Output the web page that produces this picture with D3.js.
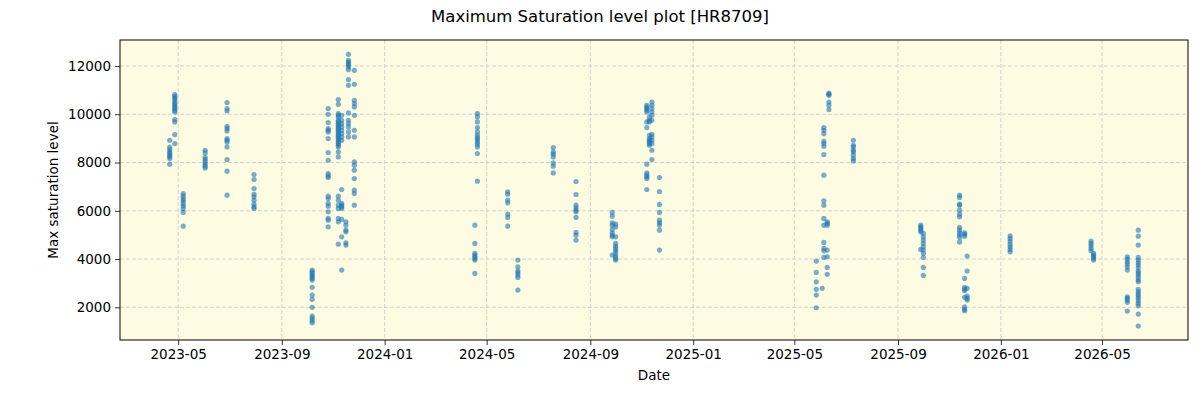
<html>
<head>
<script src="https://d3js.org/d3.v7.min.js"></script>
<title>Maximum Saturation level plot [HR8709]</title>
<style>
  body { margin: 0; padding: 0; background: #fff; }
  text { font-family: "DejaVu Sans", sans-serif; }
</style>
</head>
<body>
<script>

// one entry per observing night: date and the max saturation levels measured that night
var nightDates = [
  "2023-04-21", "2023-04-27", "2023-05-07", "2023-06-02", "2023-06-28", "2023-07-30",
  "2023-10-07", "2023-10-26", "2023-11-07", "2023-11-11", "2023-11-16", "2023-11-19", "2023-11-26",
  "2024-04-17", "2024-04-20", "2024-05-26", "2024-06-07", "2024-07-19", "2024-08-15",
  "2024-09-27", "2024-10-01", "2024-11-07", "2024-11-10", "2024-11-13", "2024-11-22",
  "2025-05-27", "2025-06-03", "2025-06-05", "2025-06-09", "2025-06-11", "2025-07-10",
  "2025-09-28", "2025-10-01", "2025-11-13", "2025-11-19", "2025-11-22", "2026-01-12",
  "2026-04-18", "2026-04-21", "2026-05-31", "2026-06-13"
];

var nightLevels = [
  [8923, 8637, 8538, 8439, 8373, 8303, 8232, 8166, 7930],
  [10814, 10744, 10674, 10607, 10508, 10442, 10372, 10302, 10236, 10165, 10095, 9780, 9680, 9159, 8786],
  [6717, 6606, 6494, 6411, 6304, 6204, 6097, 5931, 5364],
  [8509, 8397, 8207, 8124, 8025, 7930, 7847, 7777],
  [10483, 10235, 10135, 9502, 9407, 9308, 8993, 8923, 8853, 8646, 8124, 7640, 6647],
  [7504, 7297, 6924, 6688, 6577, 6440, 6275, 6163, 6097],
  [3543, 3473, 3407, 3337, 3266, 3200, 3130, 2828, 2509, 2331, 2000, 1640, 1545, 1446, 1363],
  [10235, 9999, 9655, 9407, 9337, 9267, 8993, 8414, 8095, 7545, 7445, 7379, 6606, 6510, 6304, 6192, 5956, 5683, 5613, 5335],
  [10607, 10413, 10028, 9957, 9887, 9750, 9680, 9614, 9544, 9474, 9407, 9337, 9267, 9200, 9130, 9060, 8993, 8923, 8853, 8786, 8716, 8646, 8439, 8232,
   6606, 6440, 6233, 6097, 5683, 5542, 4619],
  [9957, 9750, 9614, 9474, 9337, 9200, 9060, 8923, 6883, 6304, 6233, 6163, 6097, 5641, 4921, 3543],
  [5542, 5406, 5199, 5128, 4673, 4578],
  [12482, 12234, 12163, 12097, 12027, 11956, 11848, 11434, 11199, 10053, 9750, 9614, 9474, 9267, 9060],
  [11820, 11240, 10578, 10442, 10302, 9957, 9337, 9060, 8025, 7889, 7682, 7338, 6854, 6717, 6233],
  [5406, 4648, 4235, 4164, 4094, 4028, 3957, 3407],
  [10028, 9887, 9680, 9449, 9267, 9130, 9035, 8952, 8853, 8758, 8646, 8373, 7226],
  [6784, 6688, 6440, 6328, 5861, 5724, 5364],
  [3957, 3680, 3514, 3432, 3337, 3241, 2716],
  [8621, 8439, 8344, 8232, 7984, 7847, 7570],
  [7214, 6676, 6233, 6122, 6026, 5956, 5724, 5103, 4992, 4785],
  [5931, 5778, 5501, 5406, 5228, 5087, 4992, 4921, 4164],
  [5447, 5335, 4921, 4648, 4537, 4441, 4342, 4235, 4123, 4028, 3957],
  [10372, 10302, 10236, 10165, 10095, 9680, 9449, 7930, 7570, 7475, 7404, 7338, 6883],
  [9887, 9750, 9680, 9130, 8993, 8923, 8853, 8786, 8716],
  [10508, 10372, 10235, 10095, 9957, 9750, 9171, 9060, 8923, 8786, 8509, 8124],
  [7379, 6800, 6262, 5931, 5613, 5501, 5406, 5199, 4371],
  [3916, 3448, 3059, 2745, 2509, 1983],
  [2786],
  [9449, 9337, 9200, 8882, 8786, 8675, 8331, 7475, 6411, 6233, 5683, 5406, 4690, 4441, 4342, 4069],
  [5542, 5476, 5406, 4371, 4094, 3655, 3366],
  [10880, 10826, 10785, 10508, 10372, 10193],
  [8923, 8716, 8646, 8509, 8439, 8303, 8166, 8067],
  [5406, 5335, 5269, 5199, 5128, 4400],
  [5062, 4921, 4785, 4648, 4508, 4371, 4235, 4069, 3655, 3324],
  [6647, 6552, 6275, 6233, 6026, 5861, 5749, 5310, 5199, 5087, 4992, 4897, 4702],
  [5087, 5033, 4950, 3200, 2828, 2745, 2687, 2414, 2025, 1917, 1859],
  [4123, 3502, 2786, 2468, 2372, 2302],
  [4963, 4855, 4744, 4619, 4508, 4400, 4301],
  [4744, 4648, 4549, 4441, 4342],
  [4235, 4164, 4094, 4028, 3957],
  [4094, 3999, 3887, 3792, 3680, 3543, 2439, 2372, 2302, 2207, 1847],
  [5199, 4950, 4578, 4069, 3957, 3846, 3750, 3639, 3502, 3432, 3337, 3241, 3130, 3059, 2745, 2646, 2550, 2468, 2372, 2273, 2165, 2066, 1723, 1226]
];

var xTickDates = ["2023-05-01", "2023-09-01", "2024-01-01", "2024-05-01", "2024-09-01",
                  "2025-01-01", "2025-05-01", "2025-09-01", "2026-01-01", "2026-05-01"];
var yTickValues = [2000, 4000, 6000, 8000, 10000, 12000];

var xDomain = ["2023-02-21", "2026-08-11"];
var yDomain = [647, 13076];

var parse = d3.timeParse("%Y-%m-%d");

var points = [];
nightDates.forEach(function(d, i) {
  nightLevels[i].forEach(function(v) {
    points.push({date: parse(d), value: v});
  });
});

var width = 1200, height = 400;
var margin = {top: 40, right: 12, bottom: 60, left: 120};
var plotW = width - margin.left - margin.right,
    plotH = height - margin.top - margin.bottom;

var svg = d3.select("body").append("svg")
  .attr("width", width)
  .attr("height", height);

var x = d3.scaleTime().domain(xDomain.map(parse)).range([0, plotW]);
var y = d3.scaleLinear().domain(yDomain).range([plotH, 0]);

var g = svg.append("g").attr("transform", "translate(" + margin.left + "," + margin.top + ")");

g.append("rect")
  .attr("width", plotW)
  .attr("height", plotH)
  .attr("fill", "#fdfce3");

// grid
g.append("g").selectAll("line")
  .data(xTickDates.map(parse))
  .enter().append("line")
  .attr("x1", function(d) { return x(d); })
  .attr("x2", function(d) { return x(d); })
  .attr("y1", 0).attr("y2", plotH)
  .attr("stroke", "#c8c8c8").attr("stroke-width", 0.8)
  .attr("stroke-dasharray", "4,2");

g.append("g").selectAll("line")
  .data(yTickValues)
  .enter().append("line")
  .attr("y1", function(d) { return y(d); })
  .attr("y2", function(d) { return y(d); })
  .attr("x1", 0).attr("x2", plotW)
  .attr("stroke", "#c8c8c8").attr("stroke-width", 0.8)
  .attr("stroke-dasharray", "4,2");

// points
g.append("g").selectAll("circle")
  .data(points)
  .enter().append("circle")
  .attr("cx", function(d) { return x(d.date); })
  .attr("cy", function(d) { return y(d.value); })
  .attr("r", 2.6)
  .attr("fill", "#1f77b4")
  .attr("fill-opacity", 0.6);

// axes
var xAxis = d3.axisBottom(x)
  .tickValues(xTickDates.map(parse))
  .tickFormat(d3.timeFormat("%Y-%m"))
  .tickSizeOuter(0)
  .tickSize(5)
  .tickPadding(4);

var yAxis = d3.axisLeft(y)
  .tickValues(yTickValues)
  .tickFormat(d3.format("d"))
  .tickSizeOuter(0)
  .tickSize(5)
  .tickPadding(4);

var gx = g.append("g").attr("transform", "translate(0," + plotH + ")").call(xAxis);
var gy = g.append("g").call(yAxis);

[gx, gy].forEach(function(ax) {
  ax.select(".domain").remove();
  ax.selectAll("text").style("font-size", "13.5px").attr("fill", "#000");
  ax.selectAll("line").attr("stroke", "#000").attr("stroke-width", 0.8);
});

g.append("rect")
  .attr("width", plotW)
  .attr("height", plotH)
  .attr("fill", "none")
  .attr("stroke", "#000")
  .attr("stroke-width", 1);

// labels
svg.append("text")
  .attr("x", width / 2)
  .attr("y", 22)
  .attr("text-anchor", "middle")
  .style("font-size", "16.5px")
  .text("Maximum Saturation level plot [HR8709]");

svg.append("text")
  .attr("x", margin.left + plotW / 2)
  .attr("y", 380)
  .attr("text-anchor", "middle")
  .style("font-size", "13.5px")
  .text("Date");

svg.append("text")
  .attr("transform", "translate(58," + (margin.top + plotH / 2) + ") rotate(-90)")
  .attr("text-anchor", "middle")
  .style("font-size", "13.5px")
  .text("Max saturation level");

</script>
</body>
</html>
